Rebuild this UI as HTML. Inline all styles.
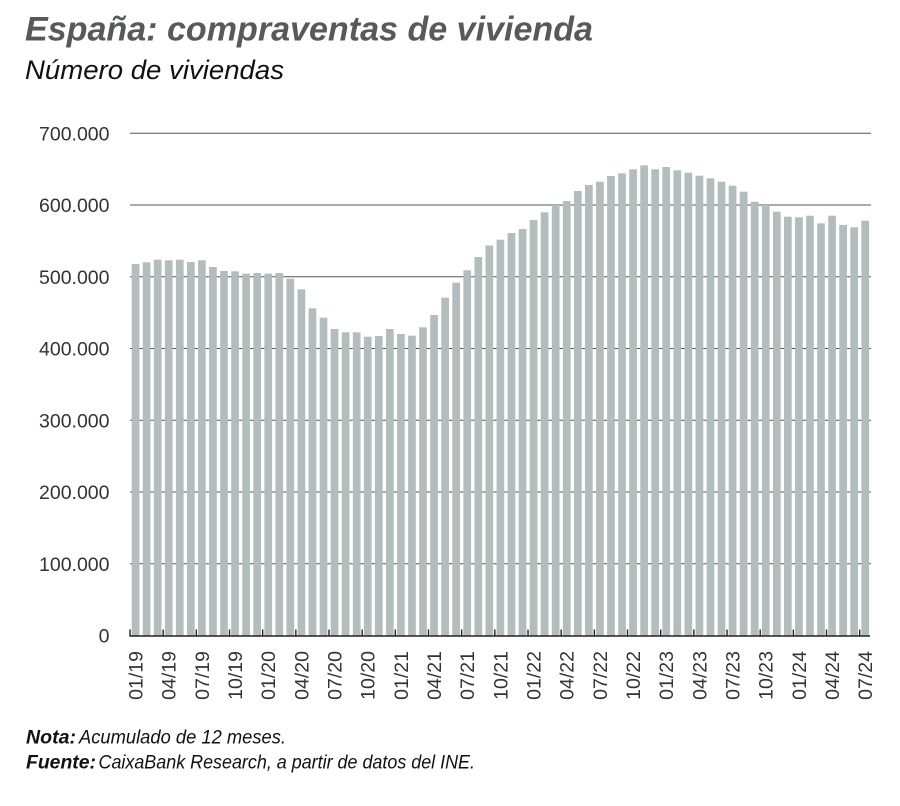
<!DOCTYPE html>
<html>
<head>
<meta charset="utf-8">
<style>
html,body{margin:0;padding:0;background:#fff;}
svg{display:block;}
text{font-family:"Liberation Sans",sans-serif;}
</style>
</head>
<body>
<svg id="c" width="900" height="806" viewBox="0 0 900 806" xmlns="http://www.w3.org/2000/svg">
<text x="25" y="40.5" font-size="34" font-weight="bold" font-style="italic" fill="#58595b" textLength="568" lengthAdjust="spacingAndGlyphs">España: compraventas de vivienda</text>
<text x="25" y="79" font-size="27" font-style="italic" fill="#111" textLength="259" lengthAdjust="spacingAndGlyphs">Número de viviendas</text>
<g id="grid" stroke="#555" stroke-width="1"></g>
<g id="ylab" font-size="19.5" fill="#333" text-anchor="end"></g>
<g id="bars" fill="#b3bdbe"></g>
<g id="axis"></g>
<g id="xlab" font-size="19.5" fill="#333" text-anchor="end"></g>
<text x="26" y="743.5" font-size="19.5" font-weight="bold" font-style="italic" fill="#111" textLength="50" lengthAdjust="spacingAndGlyphs">Nota:</text>
<text x="79" y="743.5" font-size="19.5" font-style="italic" fill="#111" textLength="207" lengthAdjust="spacingAndGlyphs">Acumulado de 12 meses.</text>
<text x="26" y="768.5" font-size="19.5" font-weight="bold" font-style="italic" fill="#111" textLength="70" lengthAdjust="spacingAndGlyphs">Fuente:</text>
<text x="98.5" y="768.5" font-size="19.5" font-style="italic" fill="#111" textLength="376.5" lengthAdjust="spacingAndGlyphs">CaixaBank Research, a partir de datos del INE.</text>
</svg>
<script>
(function(){
var NS="http://www.w3.org/2000/svg";
function el(t,a,p,txt){var e=document.createElementNS(NS,t);for(var k in a)e.setAttribute(k,a[k]);if(txt!==undefined)e.textContent=txt;p.appendChild(e);return e;}
var zero=635.5, per=71.75;
var grid=document.getElementById('grid'), ylab=document.getElementById('ylab');
var ylabels=["0","100.000","200.000","300.000","400.000","500.000","600.000","700.000"];
for(var i=0;i<8;i++){
  var y=zero-i*per;
  if(i>0) el('line',{x1:130,x2:871,y1:y,y2:y},grid);
  el('text',{x:109.5,y:y+7},ylab,ylabels[i]);
}
var tops=[264,262.3,259.7,260.3,259.7,262,260.3,267,271,271.3,273.7,273,273.7,273,278.7,289.3,308.3,317.7,329,332.3,332.3,336.7,336,329,334,335.7,327.3,315,297.7,282.7,270.3,257,245.5,239.7,233,229,220,212.3,205,201,191,185,181.7,176,173.3,169.3,165.3,169.3,167,170.3,172.7,175.7,178.3,181.7,185.7,191.7,201.7,205,211.7,216.7,217.3,215.7,223.3,215.7,225,227.3,220.7];
var bars=document.getElementById('bars');
var pitch=11.056;
for(var i=0;i<tops.length;i++){
  var x=131.7+i*pitch;
  el('rect',{x:x,y:tops[i],width:7.7,height:zero-tops[i]},bars);
}
var axis=document.getElementById('axis');
el('line',{x1:129.5,x2:870,y1:636,y2:636,stroke:'#222','stroke-width':1.6},axis);
var xlab=document.getElementById('xlab');
var mm=["01","04","07","10"];
for(var k=0;k<23;k++){
  var i=k*3;
  var tx=130+i*pitch;
  el('line',{x1:tx,x2:tx,y1:629.5,y2:636,stroke:'#222','stroke-width':1.4},axis);
  var cx=135.55+i*pitch;
  var yr=19+Math.floor(i/12);
  var m=mm[(i%12)/3];
  el('text',{transform:'translate('+(cx+7)+',651) rotate(-90)'},xlab,m+'/'+yr);
}
})();
</script>
</body>
</html>
